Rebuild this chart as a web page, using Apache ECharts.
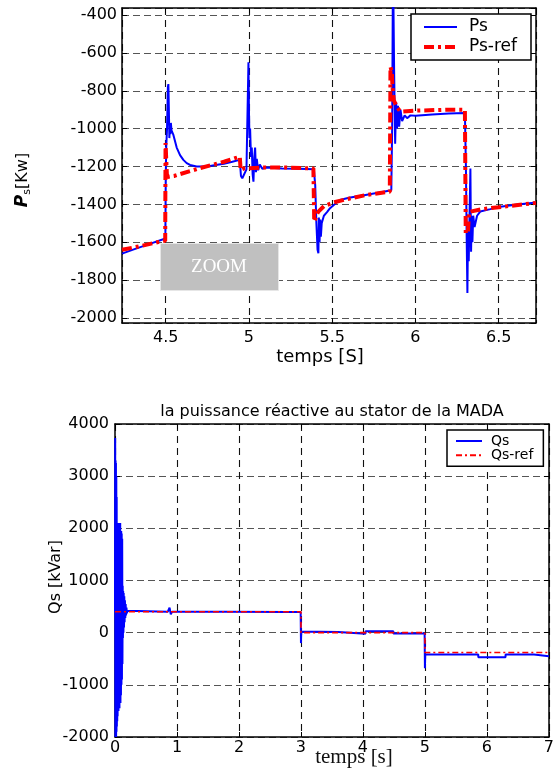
<!DOCTYPE html>
<html>
<head>
<meta charset="utf-8">
<script src="https://cdn.jsdelivr.net/npm/echarts@6/dist/echarts.min.js"></script>
<style>
html,body{margin:0;padding:0;background:#fff;}
#chart{width:557px;height:771px;}
</style>
</head>
<body>
<div id="chart"></div>
<script>
// ---------- Top chart: active stator power (zoom) ----------
const psTime = [4.2375,4.30,4.40,4.498,4.500,4.503,4.508,4.513,4.516,4.519,4.522,4.525,4.528,4.531,4.535,4.545,4.566,4.586,4.606,4.626,4.646,4.686,4.75,4.80,4.85,4.90,4.945,4.952,4.96,4.97,4.985,4.993,4.997,5.000,5.003,5.007,5.012,5.017,5.022,5.027,5.032,5.037,5.042,5.047,5.055,5.065,5.08,5.107,5.20,5.30,5.39,5.398,5.405,5.412,5.417,5.420,5.424,5.428,5.432,5.437,5.45,5.47,5.487,5.52,5.547,5.60,5.70,5.80,5.855,5.860,5.864,5.868,5.872,5.878,5.884,5.889,5.895,5.902,5.910,5.920,5.935,5.95,5.97,6.00,6.10,6.20,6.297,6.303,6.308,6.312,6.316,6.320,6.325,6.330,6.334,6.338,6.342,6.347,6.355,6.37,6.389,6.45,6.51,6.60,6.724];
const psValues = [-1660,-1640,-1610,-1580,-1300,-1100,-1000,-780,-765,-900,-1050,-980,-1030,-970,-1010,-1030,-1100,-1140,-1165,-1182,-1192,-1200,-1200,-1192,-1185,-1175,-1165,-1250,-1262,-1255,-1215,-1220,-650,-900,-1050,-1000,-1150,-1100,-1240,-1280,-1150,-1100,-1230,-1160,-1220,-1190,-1212,-1205,-1210,-1212,-1215,-1300,-1500,-1640,-1658,-1470,-1600,-1480,-1570,-1500,-1460,-1440,-1420,-1395,-1377,-1365,-1350,-1335,-1325,-1000,-300,-360,-700,-1080,-860,-1000,-880,-990,-900,-960,-930,-945,-930,-932,-925,-920,-918,-1200,-1600,-1868,-1500,-1700,-1450,-1210,-1650,-1460,-1600,-1460,-1520,-1460,-1438,-1425,-1412,-1402,-1390];
const psRefTime = [4.2375,4.35,4.45,4.497,4.499,4.503,4.507,4.512,4.55,4.70,4.85,4.945,4.950,4.97,5.10,5.20,5.387,5.392,5.40,5.41,5.417,5.45,5.507,5.60,5.707,5.846,5.850,5.858,5.862,5.87,5.885,5.905,5.918,6.00,6.20,6.297,6.302,6.315,6.322,6.40,6.50,6.724];
const psRefValues = [-1640,-1620,-1600,-1592,-1076,-1080,-1240,-1255,-1250,-1210,-1175,-1148,-1218,-1210,-1205,-1205,-1210,-1491,-1495,-1450,-1438,-1410,-1390,-1370,-1350,-1333,-674,-700,-780,-850,-880,-905,-910,-905,-900,-900,-1552,-1552,-1440,-1425,-1415,-1392];
const psXTicks = [4.5,5,5.5,6,6.5];
const psYTicks = [-2000,-1800,-1600,-1400,-1200,-1000,-800,-600,-400];

// ---------- Bottom chart: reactive stator power ----------
const qsTime = [0,0.003,0.006,0.009,0.012,0.015,0.018,0.021,0.024,0.027,0.030,0.033,0.036,0.039,0.042,0.045,0.048,0.052,0.056,0.060,0.064,0.068,0.072,0.076,0.080,0.084,0.088,0.092,0.096,0.100,0.104,0.108,0.112,0.116,0.120,0.124,0.128,0.132,0.136,0.140,0.145,0.150,0.155,0.160,0.166,0.172,0.178,0.185,0.192,0.20,0.22,0.85,0.88,0.90,0.92,1.75,1.76,2.80,2.995,3.000,3.005,3.60,3.601,4.04,4.041,4.49,4.491,4.995,5.000,5.005,5.86,5.861,6.30,6.301,6.76,6.761,7.0];
const qsValues = [400,3730,-2000,3300,-2000,3250,-2000,3000,-1900,2600,-1800,2000,-1700,1500,-1600,1200,-1500,2100,-1500,2000,-1400,2100,-1450,1900,-1300,2100,-1350,1900,-1200,1950,-1000,1900,-900,1800,-600,900,-100,800,0,760,100,700,200,620,280,550,330,480,370,420,400,400,480,350,400,400,380,395,395,-200,20,15,-20,-20,25,25,-15,-15,-680,-420,-420,-470,-470,-420,-420,-450,-450];
const qsRefTime = [0,3.0,3.0,5.0,5.0,7.0];
const qsRefValues = [400,400,0,0,-380,-380];
const qsXTicks = [0,1,2,3,4,5,6,7];
const qsYTicks = [-2000,-1000,0,1000,2000,3000,4000];

const zip = (a, b) => a.map((t, i) => [t, b[i]]);
const inList = (list) => (v) => list.some(t => Math.abs(t - v) < 1e-6);
const fmt = (list) => (v) => inList(list)(v) ? String(+(+v).toFixed(2)) : '';

const FONT = 'DejaVu Sans';
const hSplit = {show: true, lineStyle: {color: '#555', type: [7, 4], width: 1.2}};
const vSplit = {show: true, lineStyle: {color: '#111', type: [7, 5], width: 1.1}};
const axLine = {show: true, onZero: false, lineStyle: {color: '#000', width: 1.5}};
const tickIn = {show: true, inside: true, length: 5, lineStyle: {color: '#000'}};

const chart = echarts.init(document.getElementById('chart'), null, {renderer: 'canvas'});
chart.setOption({
  animation: false,
  backgroundColor: '#fff',
  grid: [
    {left: 122, top: 8, width: 414, height: 315},
    {left: 115, top: 424, width: 435, height: 313}
  ],
  xAxis: [
    {gridIndex: 0, type: 'value', min: 4.2375, max: 6.724, splitNumber: 5,
      axisLine: axLine, axisTick: tickIn, splitLine: vSplit,
      axisLabel: {margin: 7, color: '#000', fontSize: 16, fontFamily: FONT, formatter: fmt(psXTicks), showMinLabel: false, showMaxLabel: false}},
    {gridIndex: 0, type: 'value', position: 'top', min: 4.2375, max: 6.724, splitNumber: 5,
      axisLine: axLine, axisTick: tickIn, splitLine: {show: false}, axisLabel: {show: false}},
    {gridIndex: 1, type: 'value', min: 0, max: 7, interval: 1,
      axisLine: axLine, axisTick: tickIn, splitLine: vSplit,
      axisLabel: {margin: 3, color: '#000', fontSize: 16, fontFamily: FONT, formatter: fmt(qsXTicks)}},
    {gridIndex: 1, type: 'value', position: 'top', min: 0, max: 7, interval: 1,
      axisLine: axLine, axisTick: tickIn, splitLine: {show: false}, axisLabel: {show: false}}
  ],
  yAxis: [
    {gridIndex: 0, type: 'value', min: -2026.4, max: -363, splitNumber: 8,
      axisLine: axLine, axisTick: tickIn, splitLine: hSplit,
      axisLabel: {margin: 5, color: '#000', fontSize: 16, fontFamily: FONT, formatter: fmt(psYTicks), showMinLabel: false, showMaxLabel: false}},
    {gridIndex: 0, type: 'value', position: 'right', min: -2026.4, max: -363, splitNumber: 8,
      axisLine: axLine, axisTick: tickIn, splitLine: {show: false}, axisLabel: {show: false}},
    {gridIndex: 1, type: 'value', min: -2000, max: 4000, interval: 1000,
      axisLine: axLine, axisTick: tickIn, splitLine: hSplit,
      axisLabel: {margin: 6, color: '#000', fontSize: 16, fontFamily: FONT, formatter: fmt(qsYTicks)}},
    {gridIndex: 1, type: 'value', position: 'right', min: -2000, max: 4000, interval: 1000,
      axisLine: axLine, axisTick: tickIn, splitLine: {show: false}, axisLabel: {show: false}}
  ],
  legend: [
    {data: [{name: 'Ps', lineStyle: {width: 2}}, {name: 'Ps-ref', lineStyle: {width: 4, type: [10, 4, 3, 4]}}],
      orient: 'vertical', left: 411, top: 14,
      itemWidth: 33, itemHeight: 18, itemGap: 2, padding: [4, 14, 4, 11],
      borderColor: '#000', borderWidth: 1.5, backgroundColor: '#fff',
      itemStyle: {opacity: 0},
      textStyle: {fontSize: 17, fontFamily: FONT, color: '#000', lineHeight: 18, padding: [0, 0, 0, 7]}},
    {data: ['Qs', 'Qs-ref'], orient: 'vertical', left: 447, top: 430,
      itemWidth: 26, itemHeight: 14, itemGap: 0.3, padding: [4, 10, 4, 8],
      borderColor: '#000', borderWidth: 1.5, backgroundColor: '#fff',
      itemStyle: {opacity: 0},
      textStyle: {fontSize: 14, fontFamily: FONT, color: '#000', lineHeight: 14, padding: [0, 0, 0, 4]}}
  ],
  series: [
    {name: 'Ps', type: 'line', xAxisIndex: 0, yAxisIndex: 0, data: zip(psTime, psValues),
      symbol: 'none', lineStyle: {color: '#0000ff', width: 2}, itemStyle: {color: '#0000ff'}, z: 3},
    {name: 'Ps-ref', type: 'line', xAxisIndex: 0, yAxisIndex: 0, data: zip(psRefTime, psRefValues),
      symbol: 'none', lineStyle: {color: '#ff0000', width: 4, type: [10, 4, 3, 4]}, itemStyle: {color: '#ff0000'}, z: 4},
    {name: 'Qs', type: 'line', xAxisIndex: 2, yAxisIndex: 2, data: zip(qsTime, qsValues),
      symbol: 'none', lineStyle: {color: '#0000ff', width: 2}, itemStyle: {color: '#0000ff'}, z: 3},
    {name: 'Qs-ref', type: 'line', xAxisIndex: 2, yAxisIndex: 2, data: zip(qsRefTime, qsRefValues),
      symbol: 'none', lineStyle: {color: '#ff0000', width: 1.6, type: [6, 3, 2, 3]}, itemStyle: {color: '#ff0000'}, z: 4}
  ],
  graphic: [
    {type: 'rect', left: 160, top: 243, z: 50,
      shape: {width: 118, height: 47}, style: {fill: '#c0c0c0', stroke: '#e6e6e6', lineWidth: 1}},
    {type: 'text', x: 219, y: 267, z: 51,
      style: {text: 'ZOOM', fill: '#fff', font: '19px "Liberation Serif", serif', align: 'center', verticalAlign: 'middle'}},
    {type: 'text', x: 23, y: 180, rotation: Math.PI / 2, z: 51,
      style: {text: '{p|P}{s|s}{n|[Kw]}', align: 'center', verticalAlign: 'middle',
        rich: {
          p: {fontFamily: FONT, fontSize: 17, fontWeight: 'bold', fontStyle: 'italic', fill: '#000', lineHeight: 20, verticalAlign: 'middle'},
          s: {fontFamily: FONT, fontSize: 11, fill: '#000', lineHeight: 20, verticalAlign: 'bottom', padding: [8, 0, 0, 0]},
          n: {fontFamily: FONT, fontSize: 16, fill: '#000', lineHeight: 20, verticalAlign: 'middle'}
        }}},
    {type: 'text', x: 320, y: 357, z: 51,
      style: {text: 'temps [S]', fill: '#000', font: '18px "DejaVu Sans"', align: 'center', verticalAlign: 'middle'}},
    {type: 'text', x: 332, y: 412, z: 51,
      style: {text: 'la puissance réactive au stator de la MADA', fill: '#000', font: '16px "DejaVu Sans"', align: 'center', verticalAlign: 'middle'}},
    {type: 'text', x: 56, y: 577, rotation: Math.PI / 2, z: 51,
      style: {text: 'Qs [kVar]', fill: '#000', font: '16px "DejaVu Sans"', align: 'center', verticalAlign: 'middle'}},
    {type: 'text', x: 354, y: 757, z: 51,
      style: {text: 'temps [s]', fill: '#111', font: '21px "Liberation Serif", serif', align: 'center', verticalAlign: 'middle'}}
  ]
});
</script>
</body>
</html>
